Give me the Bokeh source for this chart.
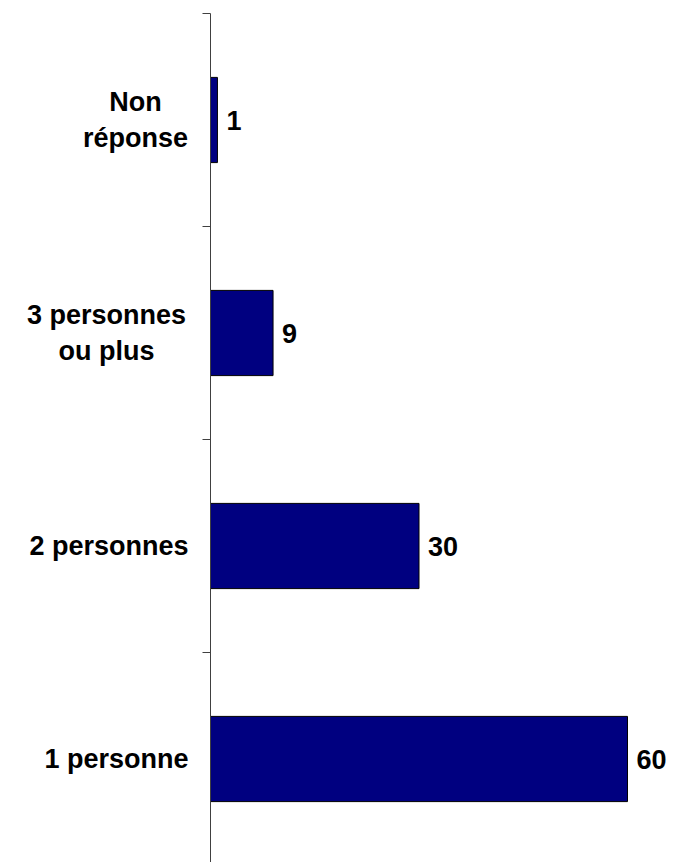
from bokeh.plotting import figure
from bokeh.models import Range1d, FixedTicker, ColumnDataSource
from bokeh.core.properties import value
from bokeh.embed import file_html
from bokeh.resources import INLINE

# Household size distribution (%), listed bottom to top
categories = ["1 personne", "2 personnes", "3 personnes\nou plus", "Non\nréponse"]
shares = [60, 30, 9, 1]

FONT = "Liberation Sans"
NAVY = "#000080"

n = len(categories)
centres = [i + 0.5 for i in range(n)]
multiline = ["\n" in c for c in categories]

# single-line labels sit flush right against the axis, two-line ones are centred blocks
label_align = ["center" if m else "right" for m in multiline]
label_dx = {"Non\nréponse": -75, "3 personnes\nou plus": -104}
label_offset = [label_dx.get(c, -22) for c in categories]

src = ColumnDataSource(dict(
    y=centres,
    share=shares,
    label=categories,
    value_text=[str(s) for s in shares],
    align=label_align,
    dx=label_offset,
))

px_per_unit = 6.95
frame_left = 210
frame_top = 13
W, H = 676, 862
band_px = 213.0

p = figure(
    width=W, height=H,
    output_backend="svg", toolbar_location=None,
    x_range=Range1d(0, (W - frame_left) / px_per_unit),
    y_range=Range1d(n - (H - frame_top) / band_px, n),
    x_axis_location=None,
    min_border_left=frame_left, min_border_right=0,
    min_border_top=frame_top, min_border_bottom=0,
)
p.outline_line_color = None
p.xgrid.visible = False
p.ygrid.visible = False
p.background_fill_color = "white"
p.border_fill_color = "white"

# category boundaries carry outward ticks but no tick labels
ax = p.yaxis[0]
ax.ticker = FixedTicker(ticks=list(range(n + 1)))
ax.major_label_overrides = {i: "" for i in range(n + 1)}
ax.major_tick_out = 8
ax.major_tick_in = 0
ax.minor_tick_out = 0
ax.minor_tick_in = 0
ax.axis_line_color = "#404040"
ax.major_tick_line_color = "#404040"

p.hbar(y="y", left=0, right="share", height=0.40, source=src,
       fill_color=NAVY, line_color="black", line_width=1)

# value labels just past the end of each bar
p.text(x="share", y="y", text="value_text", source=src,
       x_offset=9, text_align="left", text_baseline="middle",
       text_font=value(FONT), text_font_style="bold",
       text_font_size="27px", text_color="black")

# category labels left of the axis
p.text(x=0, y="y", text="label", source=src,
       x_offset="dx", text_align="align", text_baseline="middle",
       text_font=value(FONT), text_font_style="bold",
       text_font_size="27px", text_line_height=1.22,
       text_color="black", level="overlay")

open("out.html", "w").write(file_html(p, INLINE))
